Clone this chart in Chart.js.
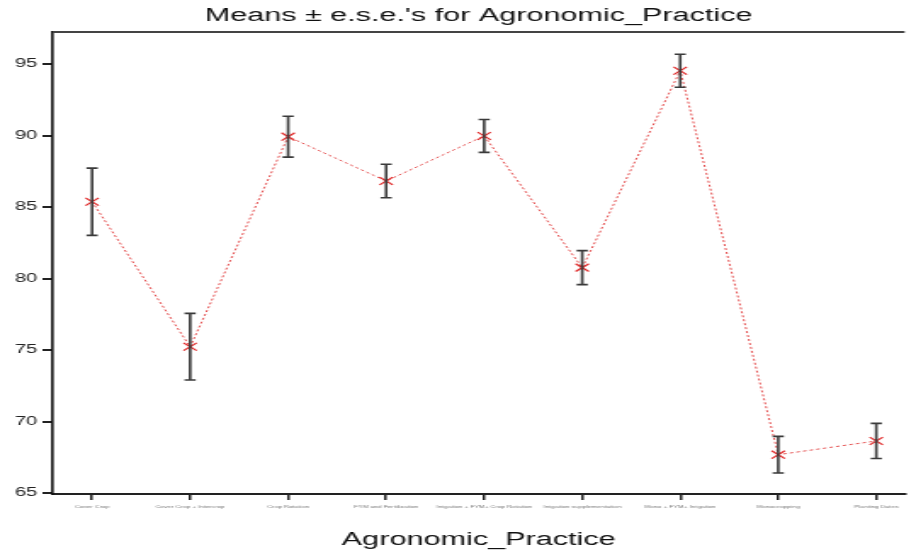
<!DOCTYPE html>
<html>
<head>
<meta charset="utf-8">
<script src="https://cdn.jsdelivr.net/npm/chart.js@4.4.1/dist/chart.umd.min.js"></script>
<style>
  html, body { margin: 0; padding: 0; background: #fff; overflow: hidden; }
  /* the reference is a horizontally stretched plot, so draw narrow and stretch */
  #wrap { width: 539px; height: 552px; transform: scaleX(1.6994); transform-origin: 0 0; }
</style>
</head>
<body>
<div id="wrap"><canvas id="meansChart"></canvas></div>
<script>
var categories = [
    "Cover Crop",
    "Cover Crop + Intercrop",
    "Crop Rotation",
    "FYM and Fertilization",
    "Irrigation + FYM+ Crop Rotation",
    "Irrigation supplementation",
    "Mono + FYM+ Irrigation",
    "Monocropping",
    "Planting Dates"
];
var means = [85.37, 75.23, 89.92, 86.82, 89.97, 80.76, 94.53, 67.68, 68.64];
var ese = [2.35, 2.33, 1.43, 1.17, 1.15, 1.19, 1.15, 1.28, 1.23];
var yTicks = [65, 70, 75, 80, 85, 90, 95];

var points = means.map(function(m, i) {
    return { x: i, y: m };
});

// error bars and the top frame line
var errorBars = {
    id: "errorBars",
    afterDatasetsDraw: function(chart) {
        var ctx = chart.ctx;
        var xs = chart.scales.x;
        var ys = chart.scales.y;
        ctx.save();
        ctx.strokeStyle = "#3a3a3a";
        ctx.lineWidth = 1.6;
        means.forEach(function(m, i) {
            var px = xs.getPixelForValue(i);
            var top = ys.getPixelForValue(m + ese[i]);
            var bot = ys.getPixelForValue(m - ese[i]);
            ctx.beginPath();
            ctx.moveTo(px, top);
            ctx.lineTo(px, bot);
            ctx.moveTo(px - 3.3, top);
            ctx.lineTo(px + 3.3, top);
            ctx.moveTo(px - 3.3, bot);
            ctx.lineTo(px + 3.3, bot);
            ctx.stroke();
        });
        var a = chart.chartArea;
        ctx.strokeStyle = "#444";
        ctx.lineWidth = 2;
        ctx.beginPath();
        ctx.moveTo(a.left, a.top);
        ctx.lineTo(a.right, a.top);
        ctx.stroke();
        ctx.restore();
    }
};

new Chart(document.getElementById("meansChart"), {
    type: "line",
    data: {
        datasets: [
            {
                data: points,
                borderColor: "rgba(225, 60, 60, 0.9)",
                borderWidth: 1,
                borderDash: [2, 2],
                pointStyle: "crossRot",
                pointRadius: 5.5,
                pointBorderWidth: 1.2,
                pointBorderColor: "#e02828",
                tension: 0
            }
        ]
    },
    options: {
        responsive: true,
        maintainAspectRatio: false,
        animation: false,
        layout: { padding: 0 },
        plugins: {
            legend: { display: false },
            tooltip: { enabled: false },
            title: {
                display: true,
                fullSize: false,
                text: "Means \u00b1 e.s.e.'s for Agronomic_Practice",
                color: "#111",
                font: { family: "'Liberation Sans', Arial, sans-serif", size: 18, weight: "normal" },
                padding: { top: 5, bottom: 5.4 }
            }
        },
        scales: {
            x: {
                type: "linear",
                min: -0.402,
                max: 8.289,
                afterBuildTicks: function(scale) {
                    scale.ticks = categories.map(function(c, i) { return { value: i }; });
                },
                afterFit: function(scale) { scale.height = 58; },
                ticks: {
                    autoSkip: false,
                    maxRotation: 0,
                    padding: 4,
                    color: "#777",
                    font: { family: "'Liberation Sans', Arial, sans-serif", size: 4 },
                    callback: function(v) { return categories[v]; }
                },
                grid: { drawOnChartArea: false, drawTicks: true, tickLength: 6, lineWidth: 1.5, color: "#222" },
                border: { display: true, width: 2, color: "#222" },
                title: {
                    display: true,
                    text: "Agronomic_Practice",
                    color: "#111",
                    font: { family: "'Liberation Sans', Arial, sans-serif", size: 18 },
                    padding: { top: 0, bottom: 1 }
                }
            },
            y: {
                min: 64.93,
                max: 97.24,
                afterBuildTicks: function(scale) {
                    scale.ticks = yTicks.map(function(v) { return { value: v }; });
                },
                afterFit: function(scale) { scale.width = 31; },
                ticks: {
                    padding: 3,
                    color: "#222",
                    font: { family: "'Liberation Sans', Arial, sans-serif", size: 12 }
                },
                grid: { drawOnChartArea: false, drawTicks: true, tickLength: 6, lineWidth: 2, color: "#222" },
                border: { display: true, width: 1.6, color: "#111" }
            }
        }
    },
    plugins: [errorBars]
});
</script>
</body>
</html>
